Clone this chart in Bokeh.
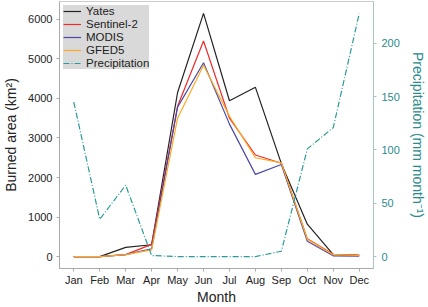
from bokeh.plotting import figure
from bokeh.models import Range1d, LinearAxis, FixedTicker, Legend, LegendItem
from bokeh.embed import file_html
from bokeh.resources import INLINE

months = ["Jan", "Feb", "Mar", "Apr", "May", "Jun", "Jul", "Aug", "Sep", "Oct", "Nov", "Dec"]
yates = [0, 0, 235, 300, 4150, 6150, 3940, 4280, 2350, 820, 50, 30]
sentinel2 = [0, 0, 50, 310, 3800, 5450, 3500, 2570, 2360, 450, 60, 40]
modis = [0, 0, 50, 200, 3780, 4900, 3350, 2080, 2330, 390, 20, 10]
gfed5 = [0, 0, 50, 170, 3500, 4840, 3550, 2500, 2370, 440, 50, 30]
precip = [145, 35, 67, 1, 0, 0, 0, 0, 5, 101, 121, 228]

FONT = "Liberation Sans"
TEAL = "#2a8c8c"

x = list(range(len(months)))

p = figure(width=428, height=307, output_backend="svg", toolbar_location=None,
           x_range=Range1d(-0.55, 11.55), y_range=Range1d(-300, 6450),
           min_border_left=59, min_border_right=51, min_border_top=1, min_border_bottom=38)
p.extra_y_ranges = {"pr": Range1d(-11.2, 239.3)}

p.xgrid.visible = False
p.ygrid.visible = False
p.outline_line_color = "#cccccc"
p.outline_line_width = 1

# Axes styling
for ax in [p.xaxis[0], p.yaxis[0]]:
    ax.axis_line_color = "#aaaaaa"
    ax.major_tick_line_color = "#aaaaaa"
    ax.minor_tick_line_color = None
    ax.major_tick_in = 0
    ax.major_tick_out = 3
    ax.major_label_text_font = FONT
    ax.major_label_text_font_size = "11px"
    ax.major_label_text_color = "#222222"
    ax.axis_label_text_font = FONT
    ax.axis_label_text_font_size = "14px"
    ax.axis_label_text_font_style = "normal"
    ax.axis_label_text_color = "#222222"

p.xaxis[0].ticker = FixedTicker(ticks=x)
p.xaxis[0].major_label_overrides = {i: m for i, m in enumerate(months)}
p.xaxis[0].axis_label = "Month"
p.xaxis[0].axis_label_standoff = 0
p.xaxis[0].major_label_standoff = 2

p.yaxis[0].ticker = FixedTicker(ticks=[0, 1000, 2000, 3000, 4000, 5000, 6000])
p.yaxis[0].axis_label = "Burned area (km\u00b2)"
p.yaxis[0].axis_label_standoff = 6
p.yaxis[0].major_label_standoff = 4

ra = LinearAxis(y_range_name="pr", ticker=FixedTicker(ticks=[0, 50, 100, 150, 200]),
                axis_label="Precipitation (mm month\u207b\u00b9)")
ra.axis_line_color = "#a8c4c4"
ra.major_tick_line_color = "#a8c4c4"
ra.minor_tick_line_color = None
ra.major_tick_in = 0
ra.major_tick_out = 3
ra.major_label_text_font = FONT
ra.major_label_text_font_size = "11px"
ra.major_label_text_color = TEAL
ra.major_label_standoff = 5
ra.axis_label_text_font = FONT
ra.axis_label_text_font_size = "14px"
ra.axis_label_text_font_style = "normal"
ra.axis_label_text_color = TEAL
ra.axis_label_standoff = 7
p.add_layout(ra, "right")

r1 = p.line(x, yates, line_color="#222222", line_width=1.2)
r2 = p.line(x, sentinel2, line_color="#ee2a2a", line_width=1.2)
r3 = p.line(x, modis, line_color="#4a4aaa", line_width=1.2)
r4 = p.line(x, gfed5, line_color="#ffaa22", line_width=1.2)
r5 = p.line(x, precip, line_color="#2a9a9a", line_width=1.2, line_dash="6 2 1 2",
            y_range_name="pr")

legend = Legend(items=[
    LegendItem(label="Yates", renderers=[r1]),
    LegendItem(label="Sentinel-2", renderers=[r2]),
    LegendItem(label="MODIS", renderers=[r3]),
    LegendItem(label="GFED5", renderers=[r4]),
    LegendItem(label="Precipitation", renderers=[r5]),
], location="top_left")
legend.background_fill_color = "#d9d9d9"
legend.background_fill_alpha = 1.0
legend.border_line_color = None
legend.label_text_font = FONT
legend.label_text_font_size = "11.5px"
legend.label_text_color = "#222222"
legend.label_height = 12
legend.glyph_height = 12
legend.glyph_width = 18
legend.label_standoff = 5
legend.spacing = 1
legend.padding = 4
legend.margin = 4
p.add_layout(legend)

open("out.html", "w").write(file_html(p, INLINE))
